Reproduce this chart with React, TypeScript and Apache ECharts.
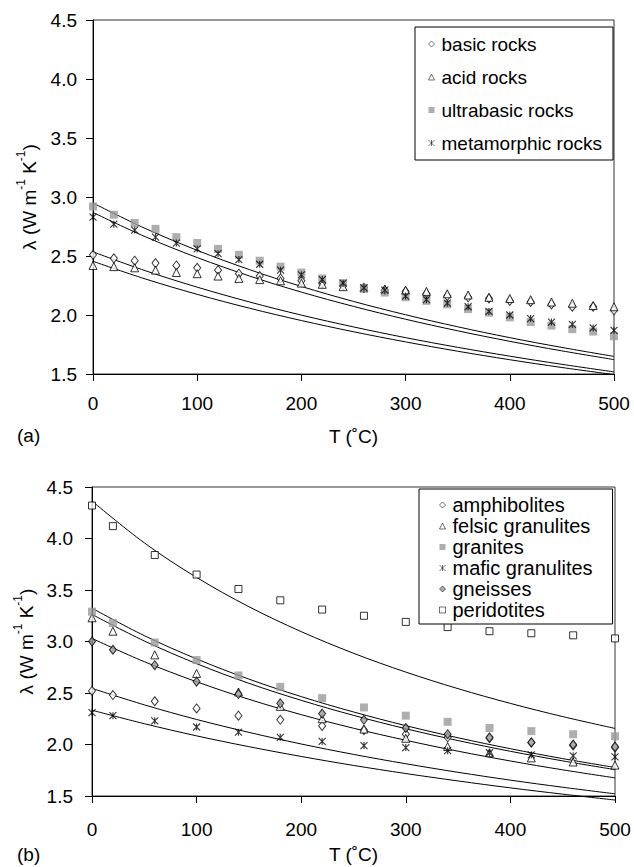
import React, { useEffect, useRef } from "react";
import * as echarts from "echarts";

// ---- panel (a): rock groups ----
const T_A = [0, 20, 40, 60, 80, 100, 120, 140, 160, 180, 200, 220, 240, 260, 280, 300, 320, 340, 360, 380, 400, 420, 440, 460, 480, 500];
const basicRocks = [2.51, 2.48, 2.46, 2.44, 2.42, 2.40, 2.38, 2.35, 2.33, 2.31, 2.29, 2.27, 2.25, 2.23, 2.21, 2.20, 2.18, 2.16, 2.15, 2.14, 2.12, 2.11, 2.09, 2.07, 2.07, 2.04];
const acidRocks = [2.42, 2.41, 2.40, 2.38, 2.36, 2.35, 2.33, 2.31, 2.30, 2.29, 2.27, 2.26, 2.24, 2.23, 2.22, 2.21, 2.20, 2.18, 2.17, 2.15, 2.14, 2.13, 2.11, 2.10, 2.08, 2.07];
const ultrabasicRocks = [2.92, 2.85, 2.78, 2.73, 2.66, 2.61, 2.56, 2.51, 2.46, 2.41, 2.36, 2.31, 2.27, 2.23, 2.19, 2.15, 2.12, 2.09, 2.05, 2.02, 1.98, 1.94, 1.91, 1.88, 1.86, 1.82];
const metamorphicRocks = [2.83, 2.77, 2.72, 2.66, 2.61, 2.56, 2.52, 2.47, 2.43, 2.38, 2.34, 2.30, 2.27, 2.23, 2.21, 2.16, 2.13, 2.10, 2.07, 2.03, 2.00, 1.97, 1.94, 1.92, 1.89, 1.87];

// model curves, sampled every 50 °C
const T_FIT = [0, 50, 100, 150, 200, 250, 300, 350, 400, 450, 500];
const fitUltrabasic = [2.949, 2.734, 2.548, 2.385, 2.242, 2.115, 2.002, 1.900, 1.808, 1.725, 1.649];
const fitMetamorphic = [2.869, 2.664, 2.487, 2.331, 2.194, 2.073, 1.964, 1.866, 1.777, 1.696, 1.622];
const fitBasic = [2.535, 2.376, 2.236, 2.111, 1.999, 1.899, 1.808, 1.726, 1.651, 1.582, 1.518];
const fitAcid = [2.455, 2.306, 2.175, 2.058, 1.953, 1.858, 1.772, 1.693, 1.621, 1.555, 1.495];

// ---- panel (b): rock types ----
const T_B = [0, 20, 60, 100, 140, 180, 220, 260, 300, 340, 380, 420, 460, 500];
const amphibolites = [2.52, 2.48, 2.42, 2.35, 2.28, 2.24, 2.18, 2.14, 2.10, 2.07, 2.06, 2.02, 1.99, 1.97];
const felsicGranulites = [3.23, 3.10, 2.87, 2.69, 2.51, 2.37, 2.25, 2.15, 2.06, 1.98, 1.92, 1.87, 1.83, 1.80];
const granites = [3.29, 3.18, 2.99, 2.82, 2.67, 2.56, 2.45, 2.36, 2.28, 2.22, 2.16, 2.13, 2.10, 2.08];
const maficGranulites = [2.31, 2.28, 2.23, 2.17, 2.12, 2.07, 2.03, 1.99, 1.97, 1.94, 1.92, 1.90, 1.89, 1.88];
const gneisses = [3.00, 2.92, 2.77, 2.61, 2.49, 2.40, 2.30, 2.24, 2.16, 2.10, 2.07, 2.02, 2.00, 1.98];
const peridotites = [4.32, 4.12, 3.84, 3.65, 3.51, 3.40, 3.31, 3.25, 3.19, 3.14, 3.10, 3.08, 3.06, 3.03];

const fitPeridotites = [4.364, 3.958, 3.622, 3.338, 3.096, 2.886, 2.703, 2.542, 2.399, 2.271, 2.156];
const fitGranites = [3.323, 3.057, 2.831, 2.635, 2.465, 2.316, 2.183, 2.065, 1.959, 1.863, 1.777];
const fitFelsic = [3.263, 3.005, 2.785, 2.594, 2.429, 2.283, 2.153, 2.038, 1.934, 1.841, 1.756];
const fitGneisses = [3.030, 2.804, 2.609, 2.439, 2.290, 2.158, 2.041, 1.935, 1.840, 1.754, 1.676];
const fitAmphibolites = [2.545, 2.385, 2.243, 2.118, 2.005, 1.904, 1.813, 1.730, 1.654, 1.585, 1.521];
const fitMafic = [2.333, 2.202, 2.084, 1.979, 1.884, 1.797, 1.718, 1.646, 1.579, 1.518, 1.461];

const Y_TICKS = { min: 1.5, max: 4.5, interval: 0.5 };
const X_TICKS = { min: 0, max: 500, interval: 100 };

const FONT = "'Liberation Sans', Arial, sans-serif";
const GRAY = "#9a9a9a";
const ASTERISK = "path://M0,0L10,10M10,0L0,10M5,0L5,10";

const zip = (xs: number[], ys: number[]) => xs.map((x, i) => [x, ys[i]]);

const marker = {
  diamond: { symbol: "diamond", symbolSize: [7, 9], itemStyle: { color: "#fff", borderColor: "#000", borderWidth: 1 } },
  grayDiamond: { symbol: "diamond", symbolSize: [7, 9], itemStyle: { color: GRAY, borderColor: "#000", borderWidth: 1 } },
  triangle: { symbol: "triangle", symbolSize: [8, 8], itemStyle: { color: "#fff", borderColor: "#000", borderWidth: 1 } },
  graySquare: { symbol: "rect", symbolSize: 8, itemStyle: { color: GRAY, borderWidth: 0 } },
  openSquare: { symbol: "rect", symbolSize: 7, itemStyle: { color: "#fff", borderColor: "#000", borderWidth: 1 } },
  asterisk: { symbol: ASTERISK, symbolSize: 7, itemStyle: { color: "none", borderColor: "#000", borderWidth: 1.1 } },
};

function scatter(name: string, idx: number, xs: number[], ys: number[], m: any) {
  return { type: "scatter", name, xAxisIndex: idx, yAxisIndex: idx, data: zip(xs, ys), z: 3, ...m };
}

function curve(name: string, idx: number, ys: number[]) {
  return {
    type: "line",
    name,
    xAxisIndex: idx,
    yAxisIndex: idx,
    data: zip(T_FIT, ys),
    smooth: 0.35,
    showSymbol: false,
    clip: false,
    silent: true,
    lineStyle: { color: "#000", width: 1 },
    itemStyle: { color: "#000" },
    z: 2,
  };
}

const yName = "{a|λ (W m}{s|-1}{a| K}{s|-1}{a|)}";
const yNameStyle = {
  fontFamily: FONT,
  color: "#000",
  rich: {
    a: { fontFamily: FONT, fontSize: 19, color: "#000", lineHeight: 24, verticalAlign: "bottom" },
    s: { fontFamily: FONT, fontSize: 12, color: "#000", lineHeight: 24, verticalAlign: "top" },
  },
};

function xAxis(idx: number, labelMargin: number, nameGap: number) {
  return {
    gridIndex: idx,
    type: "value",
    ...X_TICKS,
    axisLine: { show: true, onZero: false, lineStyle: { color: "#000", width: 1 } },
    axisTick: { show: true, inside: false, length: 7, lineStyle: { color: "#000" } },
    axisLabel: { fontFamily: FONT, fontSize: 19, color: "#000", margin: labelMargin },
    splitLine: { show: false },
    name: "T (˚C)",
    nameLocation: "middle",
    nameGap,
    nameTextStyle: { fontFamily: FONT, fontSize: 19, color: "#000" },
  };
}

function yAxis(idx: number, labelMargin: number) {
  return {
    gridIndex: idx,
    type: "value",
    ...Y_TICKS,
    axisLine: { show: true, onZero: false, lineStyle: { color: "#000", width: 1 } },
    axisTick: { show: true, inside: false, length: 7, lineStyle: { color: "#000" } },
    axisLabel: {
      fontFamily: FONT,
      fontSize: 19,
      color: "#000",
      margin: labelMargin,
      formatter: (v: number) => v.toFixed(1),
    },
    splitLine: { show: false },
    name: yName,
    nameLocation: "middle",
    nameRotate: 90,
    nameGap: 54,
    nameTextStyle: yNameStyle,
  };
}

const legendA = ["basic rocks", "acid rocks", "ultrabasic rocks", "metamorphic rocks"];
const legendB = ["amphibolites", "felsic granulites", "granites", "mafic granulites", "gneisses", "peridotites"];

const legendIconStyle = { borderWidth: 0.7 };

export default function App() {
  const ref = useRef<HTMLDivElement>(null);

  useEffect(() => {
    if (!ref.current) return;
    const chart = echarts.init(ref.current, undefined, { renderer: "svg" });

    const option: any = {
      animation: false,
      backgroundColor: "#fff",
      grid: [
        { left: 93, top: 20, width: 521, height: 354, show: true, borderColor: "#333", borderWidth: 1, backgroundColor: "transparent" },
        { left: 92, top: 487, width: 523, height: 309, show: true, borderColor: "#333", borderWidth: 1, backgroundColor: "transparent" },
      ],
      xAxis: [xAxis(0, 20, 53), xAxis(1, 24, 49)],
      yAxis: [yAxis(0, 16), yAxis(1, 19)],
      legend: [
        {
          data: legendA,
          orient: "vertical",
          left: 415,
          top: 27,
          padding: [7, 11, 7, 11],
          itemGap: 13,
          itemWidth: 6,
          itemHeight: 6,
          itemStyle: legendIconStyle,
          borderColor: "#000",
          borderWidth: 1,
          backgroundColor: "#fff",
          selectedMode: false,
          textStyle: { fontFamily: FONT, fontSize: 19, color: "#000", lineHeight: 20, padding: [0, 0, 0, 2] },
        },
        {
          data: legendB,
          orient: "vertical",
          left: 419,
          top: 489,
          padding: [6, 20, 4, 18],
          itemGap: 1,
          itemWidth: 6,
          itemHeight: 6,
          itemStyle: legendIconStyle,
          borderColor: "#000",
          borderWidth: 1,
          backgroundColor: "#fff",
          selectedMode: false,
          textStyle: { fontFamily: FONT, fontSize: 20, color: "#000", lineHeight: 20, padding: [0, 0, 0, 2] },
        },
      ],
      graphic: [
        { type: "text", left: 17, top: 426, style: { text: "(a)", fontFamily: FONT, fontSize: 19, fill: "#000" } },
        { type: "text", left: 17, top: 845, style: { text: "(b)", fontFamily: FONT, fontSize: 19, fill: "#000" } },
      ],
      series: [
        curve("fit ultrabasic", 0, fitUltrabasic),
        curve("fit metamorphic", 0, fitMetamorphic),
        curve("fit basic", 0, fitBasic),
        curve("fit acid", 0, fitAcid),
        scatter("basic rocks", 0, T_A, basicRocks, marker.diamond),
        scatter("acid rocks", 0, T_A, acidRocks, marker.triangle),
        scatter("ultrabasic rocks", 0, T_A, ultrabasicRocks, marker.graySquare),
        scatter("metamorphic rocks", 0, T_A, metamorphicRocks, marker.asterisk),

        curve("fit peridotites", 1, fitPeridotites),
        curve("fit granites", 1, fitGranites),
        curve("fit felsic", 1, fitFelsic),
        curve("fit gneisses", 1, fitGneisses),
        curve("fit amphibolites", 1, fitAmphibolites),
        curve("fit mafic", 1, fitMafic),
        scatter("amphibolites", 1, T_B, amphibolites, marker.diamond),
        scatter("felsic granulites", 1, T_B, felsicGranulites, marker.triangle),
        scatter("granites", 1, T_B, granites, marker.graySquare),
        scatter("mafic granulites", 1, T_B, maficGranulites, marker.asterisk),
        scatter("gneisses", 1, T_B, gneisses, marker.grayDiamond),
        scatter("peridotites", 1, T_B, peridotites, marker.openSquare),
      ],
    };

    chart.setOption(option);
    return () => chart.dispose();
  }, []);

  return (
    <div
      ref={ref}
      style={{ position: "fixed", left: 0, top: 0, width: 634, height: 867, background: "#fff" }}
    />
  );
}
